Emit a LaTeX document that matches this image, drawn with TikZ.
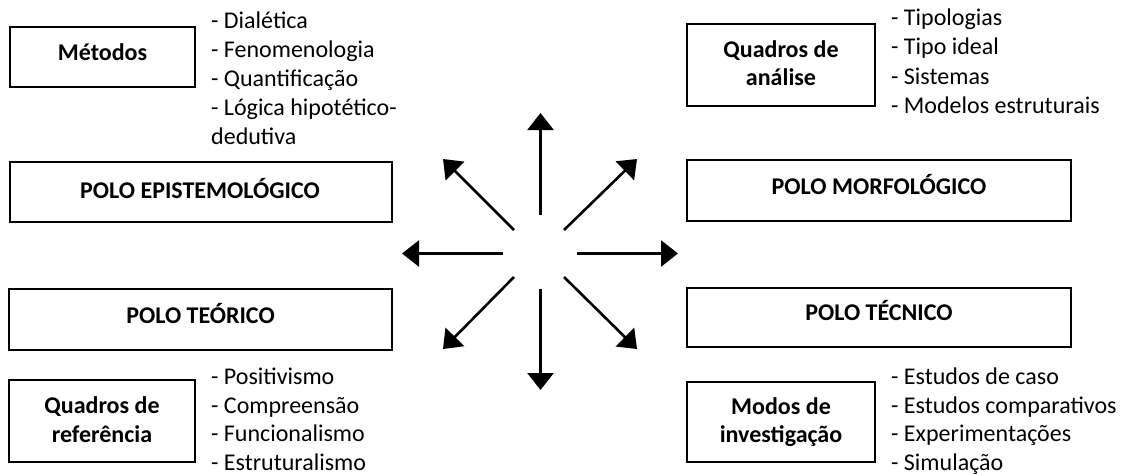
\documentclass[tikz,border=0pt]{standalone}
\usepackage{fontspec}
\setmainfont{Carlito}
\usetikzlibrary{arrows.meta}
\begin{document}
\begin{tikzpicture}[x=1pt,y=-1pt,
  box/.style={draw=black, line width=1.3pt, inner sep=0pt},
  btxt/.style={font=\fontsize{24}{29}\selectfont\bfseries, anchor=base, inner sep=0pt},
  itm/.style={font=\fontsize{24}{29}\selectfont, anchor=base west, inner sep=0pt},
  arr/.style={line width=2.6pt, -{Triangle[length=17pt,width=26pt]}}]
\useasboundingbox (0,0) rectangle (1125,474);

% boxes
\node[box, minimum width=185pt, minimum height=60pt] (met) at (102.5,57) {};
\node[box, minimum width=188pt, minimum height=82pt] (qa) at (781,65) {};
\node[box, minimum width=382pt, minimum height=60pt] (epi) at (201,192) {};
\node[box, minimum width=384pt, minimum height=61pt] (mor) at (879,190.5) {};
\node[box, minimum width=383pt, minimum height=61pt] (teo) at (200.5,319.5) {};
\node[box, minimum width=384pt, minimum height=59pt] (tec) at (879,317.5) {};
\node[box, minimum width=186pt, minimum height=82pt] (qr) at (102,421) {};
\node[box, minimum width=188pt, minimum height=80pt] (mi) at (781,422) {};

% box texts
\node[btxt] (metT) at (102.5,60) {Métodos};
\node[btxt] (qaT1) at (781,57) {Quadros de};
\node[btxt] (qaT2) at (781,85) {análise};
\node[btxt] (epiT) at (200,198) {POLO EPISTEMOLÓGICO};
\node[btxt] (morT) at (879,194) {POLO MORFOLÓGICO};
\node[btxt] (teoT) at (200.5,323) {POLO TEÓRICO};
\node[btxt] (tecT) at (879,320) {POLO TÉCNICO};
\node[btxt] (qrT1) at (102,413) {Quadros de};
\node[btxt] (qrT2) at (102,442) {referência};
\node[btxt] (miT1) at (781,414) {Modos de};
\node[btxt] (miT2) at (781,442) {investigação};

% lists
\node[itm] (m1) at (211,28) {- Dialética};
\node[itm] (m2) at (211,57) {- Fenomenologia};
\node[itm] (m3) at (211,86) {- Quantificação};
\node[itm] (m4) at (211,115) {- Lógica hipotético-};
\node[itm] (m5) at (211,144.5) {dedutiva};

\node[itm] (a1) at (891,25.5) {- Tipologias};
\node[itm] (a2) at (891,54.5) {- Tipo ideal};
\node[itm] (a3) at (891,84) {- Sistemas};
\node[itm] (a4) at (891,113) {- Modelos estruturais};

\node[itm] (r1) at (211,384.5) {- Positivismo};
\node[itm] (r2) at (211,413) {- Compreensão};
\node[itm] (r3) at (211,441.5) {- Funcionalismo};
\node[itm] (r4) at (211,470) {- Estruturalismo};

\node[itm] (i1) at (891,384.5) {- Estudos de caso};
\node[itm] (i2) at (891,413) {- Estudos comparativos};
\node[itm] (i3) at (891,441.5) {- Experimentações};
\node[itm] (i4) at (891,470) {- Simulação};

% arrows
\coordinate (sN) at (540.5,215);  \coordinate (tN) at (540.5,113);
\coordinate (sS) at (540.5,289);  \coordinate (tS) at (540.5,390);
\coordinate (sW) at (503,253.5);  \coordinate (tW) at (402,253.5);
\coordinate (sE) at (577,253.5);  \coordinate (tE) at (678,253.5);
\coordinate (sNW) at (514,230);   \coordinate (tNW) at (443,159);
\coordinate (sNE) at (564,230);   \coordinate (tNE) at (637,159);
\coordinate (sSW) at (514,277);   \coordinate (tSW) at (443,349);
\coordinate (sSE) at (564,277);   \coordinate (tSE) at (637,349);
\foreach \d in {N,S,W,E,NW,NE,SW,SE}{
  \draw[arr] (s\d) -- (t\d);
}
\end{tikzpicture}
\end{document}
